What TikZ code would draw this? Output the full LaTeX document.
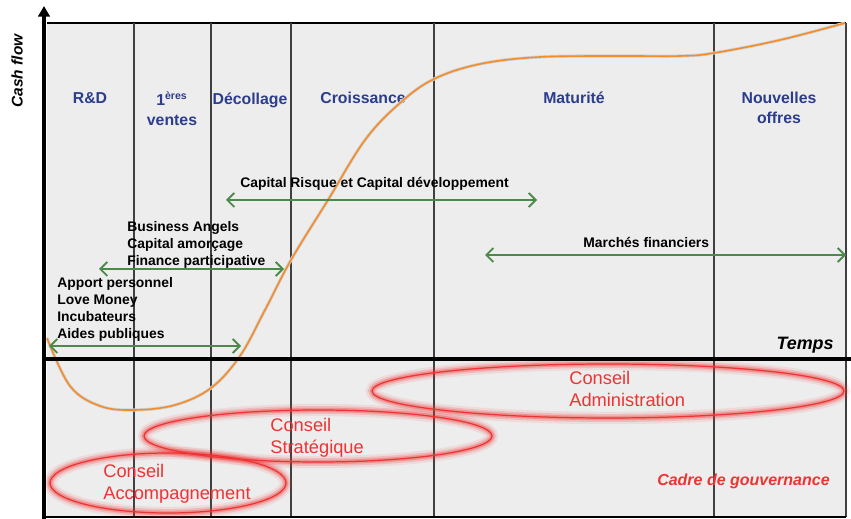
\documentclass[tikz,border=0pt]{standalone}
\usepackage{fontspec}
\setmainfont{Liberation Sans}
\usetikzlibrary{arrows.meta,shapes.geometric,positioning}
\definecolor{phaseblue}{HTML}{2B3D8C}
\definecolor{flowgreen}{HTML}{4C8A4C}
\definecolor{curveorange}{HTML}{F58C28}
\definecolor{boardred}{HTML}{EE3333}
\definecolor{panelgray}{HTML}{EDEDED}
\tikzset{
	divider/.style={draw=black!75,line width=0.6pt},
	phase/.style={text=phaseblue,font=\bfseries\fontsize{9}{11.3}\selectfont,align=center,anchor=north,inner sep=0pt},
	fund/.style={font=\bfseries\fontsize{7.9}{9.6}\selectfont,align=left,anchor=north west,inner sep=0pt},
	flow/.style={draw=flowgreen,line width=1.1pt,{Straight Barb[length=4pt,width=8pt]}-{Straight Barb[length=4pt,width=8pt]}},
	cashcurve/.style={draw=curveorange,line width=0.9pt,preaction={draw=black!18,line width=1.8pt}},
	board/.style={ellipse,draw=boardred,line width=0.7pt,inner sep=0pt,
		preaction={draw=boardred,draw opacity=0.1,line width=7pt},
		preaction={draw=boardred,draw opacity=0.18,line width=4.5pt},
		preaction={draw=boardred,draw opacity=0.3,line width=2.5pt}},
	boardtext/.style={text=boardred,font=\fontsize{10.4}{12.6}\selectfont,align=left,anchor=north west,inner sep=0pt},
}
\begin{document}
\begin{tikzpicture}[x=0.02cm,y=-0.02cm]
	\useasboundingbox (0,0) rectangle (851,519);
	\fill[panelgray] (47,23) rectangle (846,517);
	\draw[line width=0.6pt] (47,23) -- (846,23);
	\foreach \x in {134,211,291,434,714,846}
		\draw[divider] (\x,23) -- (\x,517);
	\draw[line width=1.1pt] (44,517) -- (846,517);

	\node[phase] (rd) at (90,92) {R\&D};
	\node[phase] (ventes) at (172,91) {1\textsuperscript{ères}\\ventes};
	\node[phase] (decollage) at (250,92.5) {Décollage};
	\node[phase] (croissance) at (363,92) {Croissance};
	\node[phase] (maturite) at (574,92) {Maturité};
	\node[phase] (nouvelles) at (779,92) {Nouvelles\\offres};

	\draw[cashcurve] plot[smooth,tension=0.6] coordinates {(47,338) (70,386) (100,406) (134,410) (175,405) (211,388) (240,356) (265,310) (291,260) (328,200) (365,140) (400,103) (434,79) (480,64) (540,57) (620,56) (680,56) (714,53) (780,40) (845,23)};

	\node[fund] (capital) at (240,177) {Capital Risque et Capital développement};
	\node[fund] (angels) at (127,221) {Business Angels\\Capital amorçage\\Finance participative};
	\node[fund] (apport) at (57,277) {Apport personnel\\Love Money\\Incubateurs\\Aides publiques};
	\node[fund] (marches) at (583,237) {Marchés financiers};

	\coordinate (risqueA) at (226,200);
	\coordinate (risqueB) at (537,200);
	\coordinate (angelsA) at (99,269);
	\coordinate (angelsB) at (284,269);
	\coordinate (aidesA) at (49,346);
	\coordinate (aidesB) at (241,346);
	\coordinate (marchesA) at (485,255);
	\coordinate (marchesB) at (846,255);
	\draw[flow] (risqueA) -- (risqueB);
	\draw[flow] (angelsA) -- (angelsB);
	\draw[flow] (aidesA) -- (aidesB);
	\draw[flow] (marchesA) -- (marchesB);

	\node[board,minimum width=9.44cm,minimum height=1.08cm] (admin) at (608,391) {};
	\node[board,minimum width=6.96cm,minimum height=1.04cm] (strat) at (318,436) {};
	\node[board,minimum width=4.72cm,minimum height=1.2cm] (accomp) at (168,483) {};
	\node[boardtext] (admintext) at (569,371) {Conseil\\Administration};
	\node[boardtext] (strattext) at (270,418) {Conseil\\Stratégique};
	\node[boardtext] (accomptext) at (103,464) {Conseil\\Accompagnement};
	\node[text=boardred,font=\bfseries\itshape\fontsize{9.1}{11}\selectfont,anchor=base east,inner sep=0pt] (cadre) at (830,485) {Cadre de gouvernance};

	\draw[line width=2.8pt] (44,359) -- (851,359);
	\draw[line width=2.8pt,-{Triangle[length=6pt,width=6.5pt]}] (44,519) -- (44,6);
	\node[font=\bfseries\itshape\fontsize{10.2}{12}\selectfont,anchor=base east,inner sep=0pt] (temps) at (834,350) {Temps};
	\node[font=\bfseries\itshape\fontsize{8.8}{10}\selectfont,rotate=90,inner sep=0pt] (cashflow) at (17,71) {Cash flow};
\end{tikzpicture}
\end{document}
